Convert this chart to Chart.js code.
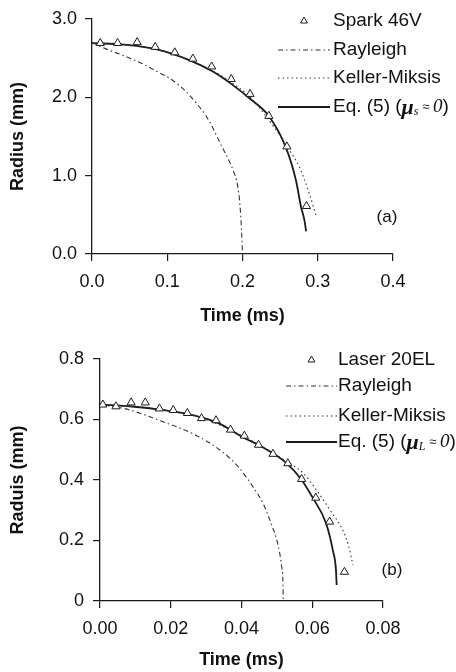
<!DOCTYPE html>
<html>
<head>
<meta charset="utf-8">
<script src="https://cdn.jsdelivr.net/npm/chart.js@4.4.1/dist/chart.umd.min.js"></script>
<style>
  html, body { margin: 0; padding: 0; background: #fff; }
  .panel { position: absolute; left: 0; width: 456px; }
  #panelA { top: 0; height: 330px; }
  #panelB { top: 330px; height: 342px; }
</style>
</head>
<body>
<div class="panel" id="panelA"><canvas id="chartA" width="456" height="330"></canvas></div>
<div class="panel" id="panelB"><canvas id="chartB" width="456" height="342"></canvas></div>
<script>
// (a) spark bubble, 46V
const sparkTime = [0.011, 0.034, 0.060, 0.084, 0.110, 0.134, 0.159, 0.185, 0.210, 0.235, 0.259, 0.285];
const sparkRadius = [2.69, 2.69, 2.70, 2.64, 2.57, 2.49, 2.39, 2.23, 2.04, 1.76, 1.37, 0.61];

const rayATime = [0, 0.020, 0.042, 0.064, 0.086, 0.108, 0.124, 0.139, 0.151, 0.161, 0.170, 0.178, 0.184, 0.189, 0.192, 0.196, 0.1985, 0.200];
const rayARadius = [2.70, 2.61, 2.53, 2.44, 2.33, 2.21, 2.08, 1.92, 1.77, 1.60, 1.42, 1.27, 1.15, 1.03, 0.94, 0.69, 0.35, 0.0];

const kmATime = [0, 0.042, 0.086, 0.130, 0.160, 0.185, 0.210, 0.2448, 0.262, 0.2756, 0.2888, 0.2984];
const kmARadius = [2.69, 2.67, 2.61, 2.47, 2.34, 2.19, 2.00, 1.58, 1.33, 1.11, 0.77, 0.47];

const eqATime = [0, 0.042, 0.086, 0.130, 0.160, 0.185, 0.210, 0.235, 0.258, 0.271, 0.2778, 0.2825, 0.2845];
const eqARadius = [2.69, 2.67, 2.61, 2.47, 2.33, 2.17, 1.98, 1.76, 1.35, 0.94, 0.60, 0.42, 0.29];

const xTicksA = [0, 0.1, 0.2, 0.3, 0.4];
const xLabelsA = ['0.0', '0.1', '0.2', '0.3', '0.4'];
const yTicksA = [0, 1, 2, 3];
const yLabelsA = ['0.0', '1.0', '2.0', '3.0'];

// (b) laser bubble, 20EL
const laserTime = [0.0008, 0.0045, 0.0088, 0.0128, 0.0168, 0.0207, 0.0247, 0.0287, 0.0328, 0.0369, 0.0408, 0.0448, 0.0489, 0.0531, 0.0570, 0.0610, 0.0649, 0.0691];
const laserRadius = [0.649, 0.643, 0.656, 0.656, 0.636, 0.631, 0.621, 0.604, 0.597, 0.566, 0.546, 0.516, 0.486, 0.455, 0.403, 0.341, 0.262, 0.096];

const rayBTime = [0, 0.0062, 0.0120, 0.0175, 0.0268, 0.0338, 0.0390, 0.0432, 0.0462, 0.0480, 0.0500, 0.0508, 0.0514, 0.0517, 0.0518];
const rayBRadius = [0.649, 0.638, 0.618, 0.594, 0.550, 0.500, 0.445, 0.378, 0.320, 0.268, 0.200, 0.158, 0.110, 0.070, 0.0];

const kmBTime = [0, 0.0090, 0.0175, 0.0268, 0.0400, 0.0527, 0.0574, 0.0610, 0.0650, 0.0686, 0.0702, 0.0715];
const kmBRadius = [0.649, 0.643, 0.632, 0.613, 0.547, 0.462, 0.423, 0.370, 0.301, 0.235, 0.185, 0.119];

const eqBTime = [0, 0.0090, 0.0175, 0.0268, 0.0335, 0.0400, 0.0465, 0.0527, 0.0567, 0.0602, 0.0639, 0.0658, 0.0667, 0.0669];
const eqBRadius = [0.649, 0.643, 0.632, 0.613, 0.588, 0.544, 0.505, 0.456, 0.405, 0.340, 0.257, 0.169, 0.103, 0.053];

const xTicksB = [0, 0.02, 0.04, 0.06, 0.08];
const xLabelsB = ['0.00', '0.02', '0.04', '0.06', '0.08'];
const yTicksB = [0, 0.2, 0.4, 0.6, 0.8];
const yLabelsB = ['0', '0.2', '0.4', '0.6', '0.8'];

Chart.defaults.font.family = "'Liberation Sans', Arial, sans-serif";
Chart.defaults.color = '#111';

const INK = '#1a1a1a';

function pts(xs, ys) {
  return xs.map((x, i) => ({ x: x, y: ys[i] }));
}

function buildDatasets(dotLabel, dotT, dotR, rayT, rayR, kmT, kmR, eqT, eqR, eqLabel) {
  const line = { showLine: true, pointRadius: 0, pointHoverRadius: 0, cubicInterpolationMode: 'monotone', fill: false };
  return [
    { label: dotLabel, data: pts(dotT, dotR), pointStyle: 'triangle', pointRadius: 4.7,
      pointBackgroundColor: '#fff', pointBorderColor: INK, pointBorderWidth: 1, showLine: false },
    Object.assign({ label: 'Rayleigh', data: pts(rayT, rayR), borderColor: '#333', borderWidth: 1.1, borderDash: [5, 3, 1.5, 3] }, line),
    Object.assign({ label: 'Keller-Miksis', data: pts(kmT, kmR), borderColor: '#333', borderWidth: 1.1, borderDash: [1.5, 3] }, line),
    Object.assign({ label: eqLabel, data: pts(eqT, eqR), borderColor: INK, borderWidth: 1.8 }, line)
  ];
}

function buildScales(o) {
  return {
    x: {
      type: 'linear', min: o.xTicks[0], max: o.xTicks[o.xTicks.length - 1],
      afterBuildTicks: s => { s.ticks = o.xTicks.map(v => ({ value: v })); },
      afterFit: s => { s.height = o.xHeight; },
      ticks: { autoSkip: false, maxRotation: 0, padding: 10, font: { size: 18 }, color: '#111',
               callback: (v, i) => o.xLabels[i] },
      grid: { drawOnChartArea: false, tickLength: 7, color: INK, lineWidth: 1.2 },
      border: { color: INK, width: 1.3 },
      title: { display: true, text: 'Time (ms)', color: '#111', font: { size: 18, weight: 'bold' },
               padding: { top: 0, bottom: o.xTitlePad } }
    },
    y: {
      type: 'linear', min: o.yTicks[0], max: o.yTicks[o.yTicks.length - 1],
      afterBuildTicks: s => { s.ticks = o.yTicks.map(v => ({ value: v })); },
      afterFit: s => { s.width = o.yWidth; },
      ticks: { autoSkip: false, padding: o.yPad, font: { size: 18 }, color: '#111',
               callback: (v, i) => o.yLabels[i] },
      grid: { drawOnChartArea: false, tickLength: 7, color: INK, lineWidth: 1.2 },
      border: { color: INK, width: 1.3 },
      title: { display: true, text: o.yTitle, color: '#111', font: { size: 18, weight: 'bold' },
               padding: { top: 7, bottom: 0 } }
    }
  };
}

function drawEqLabel(ctx, x, y, sub) {
  const parts = [
    ['Eq. (5) (', "19px 'Liberation Sans'", 0],
    ['\u03bc', "italic bold 22px 'Liberation Serif'", 1],
    [sub, "italic 12px 'Liberation Serif'", 5],
    [' \u2248 ', "13px 'Liberation Sans'", 0],
    ['0', "italic 19px 'Liberation Serif'", 0],
    [')', "19px 'Liberation Sans'", 0]
  ];
  let cx = x;
  parts.forEach(([txt, font, dy]) => {
    ctx.font = font;
    ctx.fillText(txt, cx, y + dy);
    cx += ctx.measureText(txt).width;
  });
}

const legendPanel = {
  id: 'legendPanel',
  afterDraw(chart, args, opts) {
    const ctx = chart.ctx;
    ctx.save();
    ctx.textBaseline = 'middle';
    ctx.fillStyle = '#111';
    chart.data.datasets.forEach((ds, i) => {
      const y = opts.rows[i];
      if (ds.showLine) {
        ctx.beginPath();
        ctx.setLineDash(ds.borderDash || []);
        ctx.lineWidth = ds.borderWidth;
        ctx.strokeStyle = ds.borderColor;
        ctx.moveTo(opts.from, y);
        ctx.lineTo(opts.to, y);
        ctx.stroke();
        ctx.setLineDash([]);
      } else {
        const r = ds.pointRadius * 0.85, cx = (opts.from + opts.to) / 2;
        ctx.beginPath();
        for (let k = 0; k < 3; k++) {
          const a = -Math.PI / 2 + k * 2 * Math.PI / 3;
          ctx[k ? 'lineTo' : 'moveTo'](cx + r * Math.cos(a), y + r * Math.sin(a));
        }
        ctx.closePath();
        ctx.fillStyle = '#fff';
        ctx.fill();
        ctx.lineWidth = 1;
        ctx.strokeStyle = INK;
        ctx.stroke();
        ctx.fillStyle = '#111';
      }
      if (i === 3) {
        drawEqLabel(ctx, opts.textX, y, opts.sub);
      } else {
        ctx.font = "19px 'Liberation Sans'";
        ctx.fillText(ds.label, opts.textX, y);
      }
    });
    ctx.font = "17px 'Liberation Sans'";
    ctx.textAlign = 'center';
    ctx.fillText(opts.tag, opts.tagX, opts.tagY);
    ctx.restore();
  }
};

new Chart(document.getElementById('chartA').getContext('2d'), {
  type: 'scatter',
  data: { datasets: buildDatasets('Spark 46V', sparkTime, sparkRadius, rayATime, rayARadius, kmATime, kmARadius, eqATime, eqARadius, 'Eq. (5) (\u03bcs \u2248 0)') },
  options: {
    responsive: false, animation: false,
    layout: { padding: { top: 18, right: 63, left: 0, bottom: 0 } },
    scales: buildScales({ xTicks: xTicksA, xLabels: xLabelsA, yTicks: yTicksA, yLabels: yLabelsA,
                          xHeight: 76, yWidth: 92, yPad: 8, xTitlePad: 3, yTitle: 'Radius (mm)' }),
    plugins: {
      legend: { display: false }, tooltip: { enabled: false },
      legendPanel: { rows: [21, 50, 78, 107], from: 278, to: 330, textX: 333, sub: 's', tag: '(a)', tagX: 387, tagY: 217 }
    }
  },
  plugins: [legendPanel]
});

new Chart(document.getElementById('chartB').getContext('2d'), {
  type: 'scatter',
  data: { datasets: buildDatasets('Laser 20EL', laserTime, laserRadius, rayBTime, rayBRadius, kmBTime, kmBRadius, eqBTime, eqBRadius, 'Eq. (5) (\u03bcL \u2248 0)') },
  options: {
    responsive: false, animation: false,
    layout: { padding: { top: 29, right: 73, left: 0, bottom: 0 } },
    scales: buildScales({ xTicks: xTicksB, xLabels: xLabelsB, yTicks: yTicksB, yLabels: yLabelsB,
                          xHeight: 71, yWidth: 100, yPad: 9, xTitlePad: 1, yTitle: 'Raduis (mm)' }),
    plugins: {
      legend: { display: false }, tooltip: { enabled: false },
      legendPanel: { rows: [30, 56, 86, 112], from: 286, to: 337, textX: 338, sub: 'L', tag: '(b)', tagX: 392, tagY: 240 }
    }
  },
  plugins: [legendPanel]
});
</script>
</body>
</html>
